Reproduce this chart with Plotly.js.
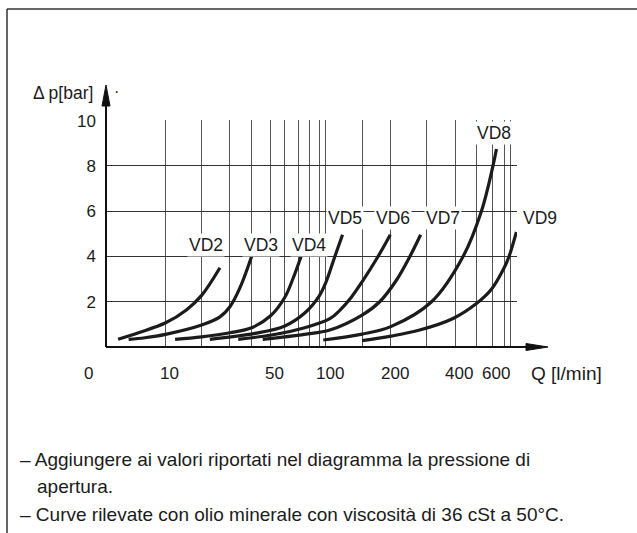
<!DOCTYPE html>
<html>
<head>
<meta charset="utf-8">
<script src="https://cdn.plot.ly/plotly-3.0.1.min.js"></script>
<style>html,body{margin:0;padding:0;background:#fff}#chart{width:637px;height:533px}</style>
</head>
<body>
<div id="chart"></div>
<script>
// ---- Data (Q in l/min, Δp in bar) ----
const vd2Q  = [4.0, 6, 10, 15, 20, 26];
const vd2P  = [0.34, 0.64, 1.07, 1.65, 2.28, 3.5];
const vd3Q  = [4.9, 6.7, 10, 20, 26, 30, 34.2, 40];
const vd3P  = [0.34, 0.41, 0.56, 0.97, 1.33, 1.78, 2.6, 4.0];
const vd4Q  = [12, 20, 30, 40, 50, 60, 66.1, 72.5];
const vd4P  = [0.34, 0.45, 0.63, 0.85, 1.38, 2.2, 3.05, 4.0];
const vd5Q  = [22.5, 41.6, 60, 75.8, 90, 100, 110.6, 120.5];
const vd5P  = [0.34, 0.6, 0.93, 1.5, 2.25, 2.85, 4.0, 4.96];
const vd6Q  = [33.5, 50.6, 75.8, 104.6, 116.9, 133, 150.4, 176, 199];
const vd6P  = [0.34, 0.53, 0.85, 1.25, 1.62, 2.2, 2.9, 4.0, 4.96];
const vd7Q  = [45.6, 75.8, 104.6, 150, 179, 213, 248, 280];
const vd7P  = [0.34, 0.56, 0.75, 1.41, 2.0, 2.95, 4.0, 4.96];
const vd8Q  = [96, 150, 200, 315, 435, 530, 607, 634];
const vd8P  = [0.31, 0.57, 0.9, 2.0, 4.0, 6.0, 8.0, 8.75];
const vd9Q  = [150, 200, 277, 392, 500, 596, 688, 772, 900];
const vd9P  = [0.28, 0.48, 0.75, 1.26, 1.92, 2.55, 3.4, 4.0, 5.08];

const seriesNames = ['VD2','VD3','VD4','VD5','VD6','VD7','VD8','VD9'];

// Grid of the Q axis (the diagram uses its own distorted logarithmic scale)
const gridQ   = [10,20,30,40,50,60,70,80,90,100,150,200,300,400,500,600,700,800,900];
const gridPos = [59.7,95.7,124,145.7,164.7,179,192.3,203.3,213.3,220,256.3,285,321,349.3,370.7,386.3,398.7,405,410.7];
const qLabelVals = [10,50,100,200,400,600];
const pTicks  = [2,4,6,8,10];

function warp(q){
  const L = Math.log10(q);
  const lg = gridQ.map(v=>Math.log10(v));
  if (q <= gridQ[0]) {
    const s = (gridPos[1]-gridPos[0])/(lg[1]-lg[0]);
    return gridPos[0] + (L-lg[0])*s;
  }
  for (let i=0;i<gridQ.length-1;i++){
    if (q <= gridQ[i+1]) {
      const t = (L-lg[i])/(lg[i+1]-lg[i]);
      return gridPos[i] + t*(gridPos[i+1]-gridPos[i]);
    }
  }
  const n = gridQ.length-1;
  const s = (gridPos[n]-gridPos[n-1])/(lg[n]-lg[n-1]);
  return gridPos[n] + (L-lg[n])*s;
}

const allQ = [vd2Q,vd3Q,vd4Q,vd5Q,vd6Q,vd7Q,vd8Q,vd9Q];
const allP = [vd2P,vd3P,vd4P,vd5P,vd6P,vd7P,vd8P,vd9P];

const traces = allQ.map((qs,i)=>({
  x: qs.map(warp), y: allP[i], name: seriesNames[i],
  type:'scatter', mode:'lines',
  line:{color:'#1b1b1b', width:3.2, shape:'spline', smoothing:1},
  hoverinfo:'skip', showlegend:false
}));

const FONT = 'Liberation Sans, Arial, Helvetica, sans-serif';
const INK = '#1b1b1b';
const W = 411, H = 227; // plot area in px
const px2x = p => (p-106)/W;
const px2y = p => (347-p)/H;

// series label positions (px)
const labelPos = [[206,245],[261,245],[309,245],[345,218],[393,218],[443,218],[494,133],[540,218]];

const annotations = seriesNames.map((n,i)=>({
  text:n, xref:'paper', yref:'paper', x:px2x(labelPos[i][0]), y:px2y(labelPos[i][1]),
  xanchor:'center', yanchor:'middle', showarrow:false, bgcolor:'#ffffff', borderpad:1,
  font:{family:FONT,size:17.5,color:INK}
}));

// Q tick labels
qLabelVals.forEach(q=>annotations.push({
  text:String(q), xref:'x', yref:'paper', x:warp(q), xshift:4, y:px2y(373),
  xanchor:'center', yanchor:'middle', showarrow:false, font:{family:FONT,size:17,color:INK}
}));

annotations.push(
  {text:'Δ p[bar]', xref:'paper', yref:'paper', x:px2x(95), y:px2y(93), xanchor:'right', yanchor:'middle', showarrow:false, font:{family:FONT,size:17.5,color:INK}},
  {text:'·', xref:'paper', yref:'paper', x:px2x(116), y:px2y(92), xanchor:'center', yanchor:'middle', showarrow:false, font:{family:FONT,size:16,color:INK}},
  {text:'0', xref:'paper', yref:'paper', x:px2x(88), y:px2y(373), xanchor:'center', yanchor:'middle', showarrow:false, font:{family:FONT,size:17,color:INK}},
  {text:'Q [l/min]', xref:'paper', yref:'paper', x:px2x(529), y:px2y(373), xanchor:'left', yanchor:'middle', showarrow:false, font:{family:FONT,size:19,color:INK}},
  {text:'– Aggiungere ai valori riportati nel diagramma la pressione di', xref:'paper', yref:'paper', x:px2x(18), y:px2y(459), xanchor:'left', yanchor:'middle', showarrow:false, font:{family:FONT,size:19,color:INK}},
  {text:'apertura.', xref:'paper', yref:'paper', x:px2x(35), y:px2y(486), xanchor:'left', yanchor:'middle', showarrow:false, font:{family:FONT,size:19,color:INK}},
  {text:'– Curve rilevate con olio minerale con viscosità di 36 cSt a 50°C.', xref:'paper', yref:'paper', x:px2x(18), y:px2y(514), xanchor:'left', yanchor:'middle', showarrow:false, font:{family:FONT,size:19,color:INK}}
);

const shapes = [
  // outer frame (left and top)
  {type:'line', xref:'paper', yref:'paper', x0:px2x(7), x1:px2x(7), y0:px2y(540), y1:px2y(9), line:{color:'#333',width:1.5}},
  {type:'line', xref:'paper', yref:'paper', x0:px2x(7), x1:px2x(640), y0:px2y(9), y1:px2y(9), line:{color:'#333',width:1.5}},
  // axes with arrows
  {type:'line', xref:'paper', yref:'paper', x0:0, x1:0, y0:0, y1:px2y(100), line:{color:'#111',width:2}},
  {type:'line', xref:'paper', yref:'paper', x0:0, x1:px2x(530), y0:0, y1:0, line:{color:'#111',width:2}},
  {type:'path', xref:'paper', yref:'paper', path:`M ${px2x(106)},${px2y(85)} L ${px2x(102)},${px2y(106)} L ${px2x(110)},${px2y(106)} Z`, fillcolor:'#111', line:{color:'#111',width:1}},
  {type:'path', xref:'paper', yref:'paper', path:`M ${px2x(548)},${px2y(347)} L ${px2x(526)},${px2y(343.5)} L ${px2x(526)},${px2y(350.5)} Z`, fillcolor:'#111', line:{color:'#111',width:1}}
];

const layout = {
  width:637, height:533,
  margin:{l:106, r:120, t:120, b:186, pad:0},
  paper_bgcolor:'#fff', plot_bgcolor:'#fff',
  showlegend:false,
  xaxis:{
    type:'linear', range:[0,411.3], fixedrange:true,
    tickmode:'array', tickvals:gridQ.map(warp), ticktext:gridQ.map(()=>''),
    showgrid:true, gridcolor:'#555', gridwidth:1, zeroline:false, showline:false, ticks:'',
    tickfont:{family:FONT,size:17,color:INK}
  },
  yaxis:{
    range:[0,10.03], fixedrange:true,
    tickmode:'array', tickvals:pTicks, ticktext:pTicks.map(String),
    showgrid:true, gridcolor:'#333', gridwidth:1, zeroline:false, showline:false, ticks:'',
    ticklabelstandoff:9,
    tickfont:{family:FONT,size:17,color:INK}
  },
  annotations, shapes
};

Plotly.newPlot('chart', traces, layout, {staticPlot:true, displayModeBar:false});
</script>
</body>
</html>
